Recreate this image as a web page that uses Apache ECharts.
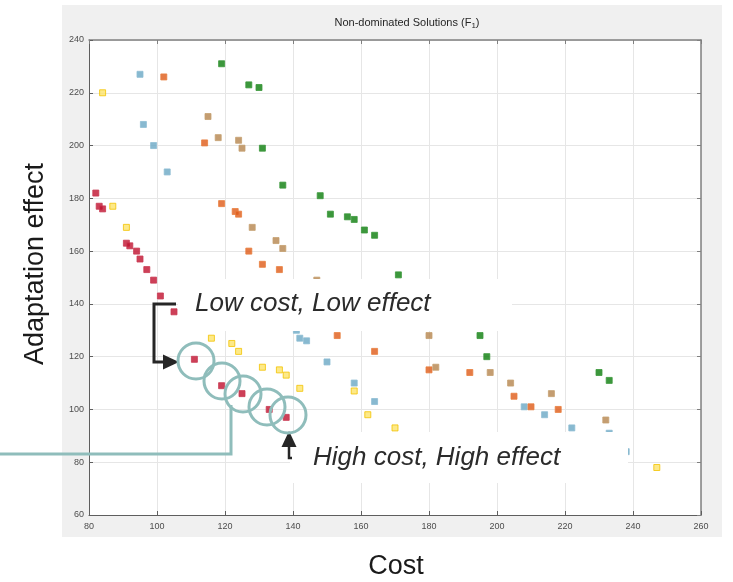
<!DOCTYPE html>
<html><head><meta charset="utf-8">
<script src="https://cdn.jsdelivr.net/npm/echarts@6/dist/echarts.min.js"></script>
<style>html,body{margin:0;padding:0;background:#fff}#c{width:733px;height:582px}</style>
</head><body><div id="c"></div>
<script>
const xTicks = [80, 100, 120, 140, 160, 180, 200, 220, 240, 260];
const yTicks = [60, 80, 100, 120, 140, 160, 180, 200, 220, 240];

const redX = [82, 83, 84, 91, 92, 94, 95, 97, 99, 101, 105, 111, 119, 125, 133, 138];
const redY = [182, 177, 176, 163, 162, 160, 157, 153, 149, 143, 137, 119, 109, 106, 100, 97];
const yellowX = [84, 87, 91, 116, 122, 124, 131, 136, 138, 142, 158, 162, 170, 247];
const yellowY = [220, 177, 169, 127, 125, 122, 116, 115, 113, 108, 107, 98, 93, 78];
const blueX = [95, 96, 99, 103, 141, 142, 144, 150, 158, 164, 208, 214, 222, 233, 238];
const blueY = [227, 208, 200, 190, 130, 127, 126, 118, 110, 103, 101, 98, 93, 91, 84];
const orangeX = [102, 114, 119, 123, 124, 127, 131, 136, 153, 164, 180, 192, 205, 210, 218];
const orangeY = [226, 201, 178, 175, 174, 160, 155, 153, 128, 122, 115, 114, 105, 101, 100];
const tanX = [115, 118, 124, 125, 128, 135, 137, 147, 180, 182, 198, 204, 216, 232];
const tanY = [211, 203, 202, 199, 169, 164, 161, 149, 128, 116, 114, 110, 106, 96];
const greenX = [119, 127, 130, 131, 137, 148, 151, 156, 158, 161, 164, 171, 195, 197, 230, 233];
const greenY = [231, 223, 222, 199, 185, 181, 174, 173, 172, 168, 166, 151, 128, 120, 114, 111];

const zip = (xs, ys) => xs.map((x, i) => [x, ys[i]]);
function sc(xs, ys, fill, border) {
  return {
    type: 'scatter', xAxisIndex: 0, yAxisIndex: 0, data: zip(xs, ys),
    symbol: 'rect', symbolSize: 6, z: 3,
    itemStyle: { color: fill, borderColor: border, borderWidth: 1 },
    emphasis: { disabled: true }
  };
}

const chart = echarts.init(document.getElementById('c'), null, { renderer: 'canvas' });
const axisCol = '#5e5e5e';
const baseX = {
  type: 'value', min: xTicks[0], max: xTicks[xTicks.length - 1], interval: 20
};
const baseY = {
  type: 'value', min: yTicks[0], max: yTicks[yTicks.length - 1], interval: 20
};
const teal = '#8fbdbb';
const dark = '#262626';

chart.setOption({
  animation: false,
  backgroundColor: '#ffffff',
  title: {
    text: '{a|Non-dominated Solutions (F}{s|1}{a|)}',
    left: 402, top: 11, textAlign: 'center',
    textStyle: { fontWeight: 'normal', rich: {
      a: { fontFamily: 'Liberation Sans', fontWeight: 'normal', fontSize: 11, color: '#262626' },
      s: { fontFamily: 'Liberation Sans', fontWeight: 'normal', fontSize: 8, color: '#262626', verticalAlign: 'bottom', padding: [6, 0, 0, 0] }
    } }
  },
  grid: { left: 89, right: 32, top: 40, bottom: 67, show: true, backgroundColor: '#ffffff', borderWidth: 0 },
  xAxis: [
    Object.assign({}, baseX, {
      position: 'bottom',
      axisLine: { show: true, lineStyle: { color: axisCol, width: 1 } },
      axisTick: { show: true, inside: true, length: 4, lineStyle: { color: axisCol } },
      axisLabel: { fontFamily: 'Liberation Sans', fontSize: 9, color: '#4d4d4d', margin: 7 },
      splitLine: { show: true, lineStyle: { color: '#e6e6e6', width: 1 } }
    }),
    Object.assign({}, baseX, {
      position: 'top',
      axisLine: { show: true, lineStyle: { color: '#808080', width: 1.5 } },
      axisTick: { show: true, inside: true, length: 4, lineStyle: { color: '#808080' } },
      axisLabel: { show: false }, splitLine: { show: false }
    })
  ],
  yAxis: [
    Object.assign({}, baseY, {
      position: 'left',
      axisLine: { show: true, lineStyle: { color: axisCol, width: 1 } },
      axisTick: { show: true, inside: true, length: 4, lineStyle: { color: axisCol } },
      axisLabel: { fontFamily: 'Liberation Sans', fontSize: 9, color: '#4d4d4d', margin: 5 },
      splitLine: { show: true, lineStyle: { color: '#e6e6e6', width: 1 } }
    }),
    Object.assign({}, baseY, {
      position: 'right',
      axisLine: { show: true, lineStyle: { color: '#808080', width: 1.5 } },
      axisTick: { show: true, inside: true, length: 4, lineStyle: { color: '#808080' } },
      axisLabel: { show: false }, splitLine: { show: false }
    })
  ],
  series: [
    sc(redX, redY, '#c0102e', '#c93a52'),
    sc(yellowX, yellowY, '#fde46a', '#f3c300'),
    sc(blueX, blueY, '#6aa7c4', '#8dbdd3'),
    sc(orangeX, orangeY, '#de5a18', '#e8803f'),
    sc(tanX, tanY, '#b5854d', '#c6a070'),
    sc(greenX, greenY, '#0b7d0b', '#3c983c')
  ],
  graphic: [
    { type: 'rect', z: -10, silent: true, shape: { x: 62, y: 5, width: 660, height: 532 }, style: { fill: '#f0f0f0' } },
    { type: 'text', z: 10, silent: true, x: 36, y: 264, rotation: Math.PI / 2,
      style: { text: 'Adaptation effect', font: '27px "Liberation Sans"', fill: '#1a1a1a', align: 'center', verticalAlign: 'middle' } },
    { type: 'text', z: 10, silent: true, x: 396, y: 567,
      style: { text: 'Cost', font: '27px "Liberation Sans"', fill: '#1a1a1a', align: 'center', verticalAlign: 'middle' } },
    // annotation boxes
    { type: 'rect', z: 100, silent: true, shape: { x: 178, y: 279, width: 334, height: 52 }, style: { fill: '#ffffff' } },
    { type: 'rect', z: 100, silent: true, shape: { x: 290, y: 432, width: 338, height: 51 }, style: { fill: '#ffffff' } },
    { type: 'text', z: 101, silent: true, x: 195, y: 304,
      style: { text: 'Low cost, Low effect', font: 'italic 26px "Liberation Sans"', fill: '#2b2b2b', align: 'left', verticalAlign: 'middle' } },
    { type: 'text', z: 101, silent: true, x: 313, y: 458,
      style: { text: 'High cost, High effect', font: 'italic 26px "Liberation Sans"', fill: '#2b2b2b', align: 'left', verticalAlign: 'middle' } },
    // low bracket arrow
    { type: 'polyline', z: 102, silent: true, shape: { points: [[176, 304], [154, 304], [154, 362], [166, 362]] },
      style: { stroke: dark, lineWidth: 3, fill: null } },
    { type: 'polygon', z: 102, silent: true, shape: { points: [[163, 354.5], [179, 362], [163, 369.5]] }, style: { fill: dark } },
    // high arrow
    { type: 'polyline', z: 102, silent: true, shape: { points: [[289, 445], [289, 458], [292, 458]] },
      style: { stroke: dark, lineWidth: 2.5, fill: null } },
    { type: 'polygon', z: 102, silent: true, shape: { points: [[281.5, 447], [289, 431], [296.5, 447]] }, style: { fill: dark } },
    // circles
    { type: 'circle', z: 103, silent: true, shape: { cx: 196, cy: 361, r: 18 }, style: { stroke: teal, lineWidth: 3, fill: null } },
    { type: 'circle', z: 103, silent: true, shape: { cx: 222, cy: 381, r: 18 }, style: { stroke: teal, lineWidth: 3, fill: null } },
    { type: 'circle', z: 103, silent: true, shape: { cx: 243, cy: 394, r: 18 }, style: { stroke: teal, lineWidth: 3, fill: null } },
    { type: 'circle', z: 103, silent: true, shape: { cx: 267, cy: 407, r: 18 }, style: { stroke: teal, lineWidth: 3, fill: null } },
    { type: 'circle', z: 103, silent: true, shape: { cx: 288, cy: 415, r: 18 }, style: { stroke: teal, lineWidth: 3, fill: null } },
    // teal connector line
    { type: 'polyline', z: 103, silent: true, shape: { points: [[0, 454], [231, 454], [231, 405]] },
      style: { stroke: teal, lineWidth: 3, fill: null } }
  ]
});
</script>
</body></html>
